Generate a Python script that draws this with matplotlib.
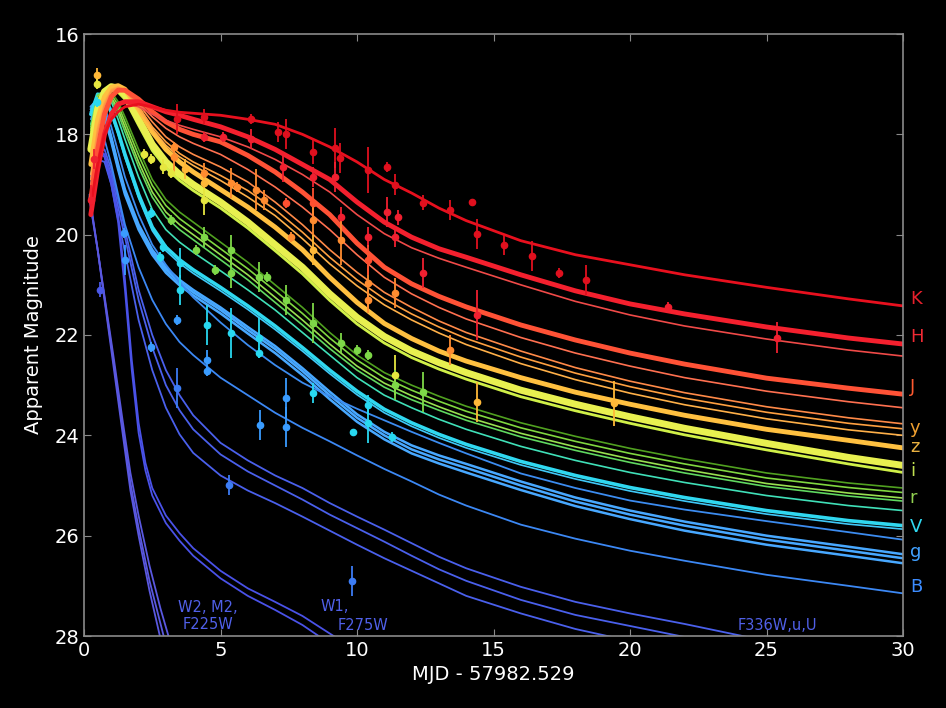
import matplotlib
matplotlib.use("Agg")
import matplotlib.pyplot as plt

# ---------------- data ----------------
T = [0.25, 0.5, 0.75, 1.0, 1.25, 1.5, 2.0, 2.5, 3.0, 3.5, 4.0, 5.0, 6.0, 7.0,
     8.0, 9.0, 10.0, 11.0, 12.0, 13.0, 14.0, 16.0, 18.0, 20.0, 22.0, 25.0, 28.0, 30.0]

K = [19.4, 18.6, 18.0, 17.7, 17.55, 17.45, 17.4, 17.45, 17.52, 17.56, 17.58, 17.62, 17.7, 17.8,
     18.0, 18.25, 18.55, 18.9, 19.17, 19.47, 19.72, 20.12, 20.4, 20.6, 20.8, 21.05, 21.28, 21.42]
H_thick = [19.6, 18.7, 18.0, 17.6, 17.4, 17.35, 17.35, 17.45, 17.55, 17.62, 17.7, 17.85, 18.05, 18.3,
           18.6, 18.9, 19.35, 19.75, 20.05, 20.28, 20.45, 20.8, 21.12, 21.38, 21.58, 21.84, 22.06, 22.18]
H_thin = [19.5, 18.6, 17.9, 17.55, 17.4, 17.38, 17.45, 17.6, 17.72, 17.82, 17.9, 18.05, 18.25, 18.5,
          18.8, 19.15, 19.6, 19.98, 20.26, 20.47, 20.65, 21.0, 21.33, 21.6, 21.82, 22.08, 22.3, 22.42]
J_thick = [19.3, 18.3, 17.6, 17.25, 17.12, 17.12, 17.3, 17.55, 17.75, 17.9, 18.0, 18.15, 18.42, 18.75,
           19.15, 19.6, 20.17, 20.65, 20.98, 21.23, 21.44, 21.8, 22.1, 22.36, 22.58, 22.86, 23.06, 23.18]
J_thin = [19.2, 18.2, 17.55, 17.22, 17.12, 17.15, 17.38, 17.65, 17.88, 18.05, 18.18, 18.4, 18.7, 19.05,
          19.45, 19.9, 20.4, 20.85, 21.18, 21.45, 21.68, 22.05, 22.36, 22.62, 22.85, 23.12, 23.33, 23.45]
y1 = [19.0, 18.0, 17.45, 17.15, 17.08, 17.12, 17.4, 17.75, 18.05, 18.25, 18.4, 18.65, 18.95, 19.35,
      19.8, 20.3, 20.75, 21.15, 21.45, 21.72, 21.95, 22.32, 22.65, 22.92, 23.15, 23.43, 23.65, 23.77]
y2 = [18.9, 17.9, 17.4, 17.12, 17.06, 17.12, 17.45, 17.85, 18.15, 18.38, 18.55, 18.82, 19.12, 19.5,
      19.95, 20.45, 20.9, 21.28, 21.58, 21.84, 22.07, 22.44, 22.76, 23.03, 23.26, 23.54, 23.76, 23.87]
y3 = [18.8, 17.85, 17.35, 17.1, 17.05, 17.12, 17.5, 17.9, 18.22, 18.45, 18.62, 18.92, 19.25, 19.62,
      20.08, 20.58, 21.02, 21.4, 21.7, 21.96, 22.19, 22.57, 22.89, 23.16, 23.39, 23.67, 23.89, 24.0]
z = [18.6, 17.7, 17.25, 17.06, 17.03, 17.1, 17.5, 17.95, 18.3, 18.55, 18.75, 19.1, 19.45, 19.85,
     20.3, 20.85, 21.35, 21.77, 22.07, 22.32, 22.52, 22.85, 23.14, 23.38, 23.6, 23.88, 24.1, 24.25]
i_thick = [18.3, 17.5, 17.15, 17.05, 17.08, 17.2, 17.7, 18.2, 18.55, 18.8, 19.0, 19.35, 19.75, 20.2,
           20.65, 21.18, 21.65, 22.03, 22.32, 22.55, 22.75, 23.1, 23.38, 23.63, 23.86, 24.16, 24.44, 24.6]
i_thin = [18.35, 17.55, 17.2, 17.12, 17.16, 17.3, 17.82, 18.32, 18.67, 18.92, 19.12, 19.47, 19.87, 20.32,
          20.78, 21.31, 21.78, 22.16, 22.45, 22.68, 22.88, 23.23, 23.51, 23.76, 23.99, 24.29, 24.57, 24.74]
r1 = [18.0, 17.3, 17.1, 17.15, 17.35, 17.65, 18.3, 18.9, 19.3, 19.55, 19.75, 20.15, 20.55, 21.0,
      21.45, 21.95, 22.4, 22.75, 23.0, 23.22, 23.42, 23.75, 24.02, 24.26, 24.47, 24.75, 24.95, 25.05]
r2 = [17.95, 17.28, 17.12, 17.2, 17.42, 17.75, 18.42, 19.02, 19.42, 19.68, 19.88, 20.28, 20.68, 21.12,
      21.57, 22.06, 22.5, 22.85, 23.1, 23.32, 23.52, 23.85, 24.12, 24.36, 24.57, 24.85, 25.04, 25.14]
r3 = [17.9, 17.25, 17.14, 17.26, 17.5, 17.85, 18.55, 19.15, 19.55, 19.8, 20.0, 20.4, 20.8, 21.25,
      21.7, 22.18, 22.62, 22.96, 23.21, 23.43, 23.63, 23.96, 24.23, 24.47, 24.68, 24.96, 25.15, 25.25]
r4 = [17.85, 17.22, 17.15, 17.3, 17.58, 17.95, 18.65, 19.25, 19.65, 19.9, 20.1, 20.5, 20.9, 21.35,
      21.8, 22.27, 22.7, 23.04, 23.29, 23.5, 23.7, 24.03, 24.3, 24.54, 24.75, 25.02, 25.21, 25.31]
cg = [17.8, 17.2, 17.15, 17.35, 17.7, 18.1, 18.85, 19.5, 19.9, 20.15, 20.35, 20.72, 21.1, 21.5,
      21.95, 22.4, 22.85, 23.2, 23.45, 23.68, 23.88, 24.22, 24.5, 24.74, 24.94, 25.2, 25.4, 25.5]
V1 = [17.6, 17.2, 17.25, 17.55, 17.95, 18.4, 19.2, 19.85, 20.25, 20.5, 20.7, 21.05, 21.42, 21.82,
      22.25, 22.7, 23.12, 23.48, 23.75, 23.98, 24.18, 24.52, 24.8, 25.04, 25.24, 25.5, 25.7, 25.8]
V2 = [17.62, 17.22, 17.28, 17.6, 18.0, 18.46, 19.27, 19.92, 20.32, 20.57, 20.77, 21.12, 21.49, 21.89,
      22.32, 22.77, 23.19, 23.55, 23.82, 24.05, 24.25, 24.59, 24.87, 25.11, 25.31, 25.57, 25.77, 25.87]
blue1 = [17.7, 17.3, 17.45, 17.85, 18.35, 18.85, 19.6, 20.2, 20.6, 20.95, 21.25, 21.75, 22.2, 22.6,
         22.95, 23.22, 23.47, 23.7, 23.93, 24.15, 24.36, 24.76, 25.05, 25.3, 25.48, 25.71, 25.93, 26.08]
g1 = [17.45, 17.3, 17.55, 18.05, 18.6, 19.1, 19.8, 20.3, 20.65, 20.9, 21.1, 21.45, 21.84, 22.22,
      22.66, 23.13, 23.58, 23.93, 24.2, 24.4, 24.57, 24.92, 25.24, 25.5, 25.72, 26.0, 26.22, 26.37]
g2 = [17.5, 17.35, 17.6, 18.1, 18.65, 19.15, 19.85, 20.35, 20.7, 20.95, 21.15, 21.5, 21.9, 22.28,
      22.72, 23.2, 23.65, 24.0, 24.28, 24.48, 24.65, 25.0, 25.32, 25.58, 25.8, 26.08, 26.3, 26.45]
g3 = [17.55, 17.4, 17.65, 18.15, 18.7, 19.2, 19.9, 20.4, 20.76, 21.01, 21.21, 21.57, 21.97, 22.36,
      22.8, 23.28, 23.73, 24.08, 24.36, 24.56, 24.74, 25.09, 25.41, 25.67, 25.9, 26.18, 26.4, 26.55]
B1 = [18.4, 17.95, 18.1, 18.6, 19.2, 19.8, 20.65, 21.3, 21.78, 22.14, 22.4, 22.85, 23.2, 23.55,
      23.85, 24.12, 24.4, 24.67, 24.92, 25.18, 25.4, 25.78, 26.06, 26.3, 26.5, 26.78, 27.0, 27.15]
U1 = [18.9, 18.35, 18.3, 18.7, 19.3, 19.9, 21.1, 22.0, 22.7, 23.2, 23.6, 24.15, 24.5, 24.8,
      25.05, 25.35, 25.62, 25.88, 26.15, 26.42, 26.65, 27.02, 27.32, 27.55, 27.76, 28.1, 28.4, 28.6]
U2 = [19.0, 18.4, 18.4, 18.8, 19.45, 20.05, 21.3, 22.25, 23.0, 23.5, 23.88, 24.38, 24.72, 25.0,
      25.28, 25.58, 25.85, 26.12, 26.4, 26.67, 26.9, 27.28, 27.58, 27.8, 28.02, 28.3, 28.6, 28.8]
U3 = [19.1, 18.5, 18.55, 19.0, 19.7, 20.35, 21.7, 22.7, 23.45, 23.98, 24.35, 24.8, 25.1, 25.35,
      25.62, 25.9, 26.18, 26.45, 26.7, 26.95, 27.2, 27.55, 27.86, 28.1, 28.35, 28.7, 29.0, 29.2]

TW1 = [0.25, 0.5, 0.75, 1.0, 1.25, 1.5, 1.75, 2.0, 2.25, 2.5, 3.0, 3.5, 4.0, 5.0, 6.0, 7.0, 8.0, 9.0, 10.0]
W1a = [18.8, 18.3, 18.4, 18.9, 19.6, 20.9, 22.5, 23.75, 24.55, 25.05, 25.6, 25.95, 26.25, 26.7, 27.05, 27.32, 27.6, 27.95, 28.3]
W1b = [18.85, 18.35, 18.45, 19.0, 19.75, 21.1, 22.7, 23.95, 24.7, 25.2, 25.75, 26.1, 26.4, 26.85, 27.2, 27.48, 27.78, 28.15, 28.5]

TW2 = [0.2, 0.5, 0.8, 1.1, 1.4, 1.7, 2.0, 2.4, 2.8, 3.2, 3.6]
W2a = [19.2, 20.3, 21.5, 22.7, 23.9, 25.1, 26.0, 27.1, 28.05, 29.0, 29.9]
W2b = [19.25, 20.3, 21.45, 22.6, 23.8, 24.95, 25.85, 26.9, 27.75, 28.6, 29.4]
W2c = [19.3, 20.3, 21.4, 22.5, 23.65, 24.75, 25.6, 26.6, 27.45, 28.2, 29.0]

# observed points: time, magnitude, error, band index
obs_t = [9.38, 10.4, 11.1, 11.4, 12.4, 13.4, 14.2, 14.4, 15.4, 16.4, 17.4, 18.4, 21.4, 25.4,
         9.4, 11.1, 11.5, 10.4, 11.4, 12.4, 14.4, 4.4, 3.4, 6.1, 7.1, 7.4, 8.4, 9.2,
         4.4, 5.1, 6.1, 7.3, 8.4, 9.2, 0.26, 0.37,
         10.4, 10.4, 11.4, 13.4, 14.4, 19.4, 11.4, 3.3, 3.3, 4.4, 5.4, 5.6, 6.3, 6.6,
         7.4, 8.4, 8.4, 7.6, 8.4, 9.4, 10.4,
         2.2, 2.45, 2.9, 3.2, 3.7, 4.4, 4.4, 0.47, 0.47,
         3.2, 4.1, 4.4, 4.8, 5.4, 5.4, 6.4, 6.7, 7.4, 8.4, 9.4, 10.0, 12.4, 10.4, 11.4,
         2.45, 2.9, 2.8, 3.5, 3.5, 4.5, 5.4, 6.4, 6.4, 8.4, 9.86, 10.4, 11.3, 0.47, 10.4,
         3.4, 4.5, 4.5, 7.4, 6.45, 7.4, 1.47, 1.5, 2.45,
         3.4, 5.3, 9.8, 0.6]
obs_m = [18.47, 18.71, 18.65, 19.0, 19.36, 19.5, 19.35, 19.99, 20.2, 20.42, 20.76, 20.9, 21.45, 22.05,
         19.65, 19.55, 19.65, 20.05, 20.05, 20.76, 21.6, 17.65, 17.7, 17.7, 17.95, 18.0, 18.35, 18.27,
         18.05, 18.05, 18.1, 18.65, 18.85, 18.85, 19.3, 18.5,
         20.97, 21.3, 21.17, 22.3, 23.33, 23.36, 22.8, 18.25, 18.45, 18.77, 18.97, 19.05, 19.1, 19.3,
         19.37, 19.37, 19.7, 20.05, 20.3, 20.1, 20.5,
         18.4, 18.5, 18.65, 18.78, 18.7, 19.3, 18.97, 16.82, 17.0,
         19.7, 20.3, 20.05, 20.7, 20.3, 20.77, 20.84, 20.84, 21.3, 21.76, 22.16, 22.3, 23.13, 22.4, 23.0,
         19.57, 20.24, 20.44, 20.57, 21.1, 21.8, 21.96, 22.06, 22.36, 23.16, 23.93, 23.76, 24.03, 17.35, 23.4,
         21.7, 22.5, 22.72, 23.26, 23.8, 23.83, 19.97, 20.5, 22.24,
         23.06, 24.99, 26.9, 21.1]
obs_e = [0.3, 0.45, 0.1, 0.2, 0.15, 0.2, 0.05, 0.3, 0.2, 0.3, 0.1, 0.3, 0.1, 0.3,
         0.2, 0.3, 0.15, 0.2, 0.2, 0.3, 0.5, 0.15, 0.3, 0.1, 0.2, 0.3, 0.25, 0.4,
         0.1, 0.1, 0.2, 0.3, 0.2, 0.3, 0.3, 0.2,
         0.6, 0.2, 0.3, 0.3, 0.4, 0.45, 0.4, 0.1, 0.3, 0.2, 0.3, 0.1, 0.4, 0.2,
         0.1, 0.3, 0.3, 0.1, 0.3, 0.5, 0.3,
         0.1, 0.1, 0.15, 0.1, 0.2, 0.3, 0.1, 0.15, 0.1,
         0.1, 0.1, 0.2, 0.1, 0.3, 0.3, 0.3, 0.1, 0.3, 0.4, 0.2, 0.1, 0.4, 0.1, 0.3,
         0.1, 0.1, 0.1, 0.3, 0.3, 0.4, 0.5, 0.4, 0.1, 0.2, 0.05, 0.4, 0.1, 0.1, 0.2,
         0.1, 0.2, 0.1, 0.4, 0.3, 0.4, 0.1, 0.3, 0.1,
         0.4, 0.2, 0.3, 0.15]
obs_b = [0, 0, 0, 0, 0, 0, 0, 0, 0, 0, 0, 0, 1, 1,
         1, 1, 1, 1, 1, 1, 1, 0, 0, 0, 0, 0, 0, 0,
         1, 1, 1, 1, 1, 1, 1, 1,
         3, 3, 3, 3, 4, 4, 5, 3, 3, 3, 3, 3, 3, 3,
         2, 2, 3, 3, 4, 3, 2,
         5, 5, 5, 5, 4, 5, 4, 4, 5,
         6, 6, 6, 6, 6, 6, 6, 6, 6, 6, 6, 6, 6, 6, 6,
         7, 7, 7, 7, 7, 7, 7, 7, 7, 7, 7, 7, 7, 7, 7,
         8, 8, 8, 8, 8, 8, 8, 8, 8,
         9, 9, 9, 10]

band_colors = ['#e0101e', '#f02030', '#ff5030', '#ff8c30', '#ffb838', '#e6e640',
               '#7ed848', '#28d8f0', '#3a9cff', '#3c7cf4', '#4a58e8']

label_names = ['K', 'H', 'J', 'y', 'z', 'i', 'r', 'V', 'g', 'B']
label_mags = [21.28, 22.04, 23.04, 23.85, 24.23, 24.71, 25.25, 25.83, 26.33, 27.03]
label_colors = ['#e8202c', '#f02a34', '#ff5a30', '#f0a030', '#e8b040', '#c0e050',
                '#90d050', '#30d8f0', '#40a0ff', '#3c8cff']

# ---------------- plot ----------------
fig = plt.figure(figsize=(9.46, 7.08), dpi=100, facecolor='black')
ax = fig.add_axes([84 / 946, 1 - 636 / 708, (903 - 84) / 946, (636 - 34) / 708])
ax.set_facecolor('black')

curves = [
    (T, U3, '#4a60ec', 1.3), (T, U2, '#4a60ec', 1.3), (T, U1, '#4a60ec', 1.3),
    (TW1, W1a, '#4a52e8', 1.3), (TW1, W1b, '#4a52e8', 1.3),
    (TW2, W2a, '#5a58e0', 1.3), (TW2, W2b, '#5a58e0', 1.3), (TW2, W2c, '#5a58e0', 1.3),
    (T, B1, '#3c88f4', 1.3),
    (T, g1, '#48a8ff', 1.8), (T, g2, '#48a8ff', 1.8), (T, g3, '#48a8ff', 1.8),
    (T, blue1, '#3c8cf0', 1.3),
    (T, V2, '#40c8f8', 1.2), (T, V1, '#30d8f0', 2.6),
    (T, cg, '#40e0b8', 1.2),
    (T, r4, '#60d860', 1.2), (T, r3, '#98e050', 1.2), (T, r2, '#80d840', 1.2), (T, r1, '#50a020', 1.2),
    (T, i_thin, '#d0f048', 2.0), (T, i_thick, '#e8f050', 5.0),
    (T, z, '#ffc040', 3.5),
    (T, y3, '#ffb048', 1.2), (T, y2, '#ffa040', 1.2), (T, y1, '#ff8a48', 1.2),
    (T, J_thin, '#ff7050', 1.2), (T, J_thick, '#ff5236', 3.5),
    (T, H_thin, '#f04a48', 1.2), (T, H_thick, '#f4202e', 3.5),
    (T, K, '#e8101e', 2.0),
]
for tx, my, col, lw in curves:
    ax.plot(tx, my, color=col, lw=lw, solid_capstyle='round', solid_joinstyle='round', zorder=2)

for t, m, e, b in zip(obs_t, obs_m, obs_e, obs_b):
    ax.errorbar(t, m, yerr=e, fmt='o', ms=4.5, color=band_colors[b], mec=band_colors[b],
                elinewidth=1.3, capsize=0, zorder=3)

ax.set_xlim(0, 30)
ax.set_ylim(28, 16)
ax.set_xticks([0, 5, 10, 15, 20, 25, 30])
ax.set_yticks([16, 18, 20, 22, 24, 26, 28])
for sp in ax.spines.values():
    sp.set_color('#8a8a8a')
    sp.set_linewidth(1.2)
ax.tick_params(direction='in', colors='#8a8a8a', labelcolor='white', labelsize=14,
               length=5, top=True, right=True)
ax.set_xlabel('MJD - 57982.529', color='white', fontsize=14, labelpad=4)
ax.set_ylabel('Apparent Magnitude', color='white', fontsize=14, labelpad=8)

for name, m, c in zip(label_names, label_mags, label_colors):
    ax.text(30.25, m, name, color=c, fontsize=13, ha='left', va='center', clip_on=False)

uv_col = '#5060e8'
ax.text(4.55, 27.6, 'W2, M2,\nF225W', color=uv_col, fontsize=10.5, ha='center', va='center',
        multialignment='center', linespacing=1.2)
ax.text(8.65, 27.42, 'W1,', color=uv_col, fontsize=10.5, ha='left', va='center')
ax.text(9.3, 27.8, 'F275W', color=uv_col, fontsize=10.5, ha='left', va='center')
ax.text(23.96, 27.8, 'F336W,u,U', color=uv_col, fontsize=10.5, ha='left', va='center')

fig.savefig('out.png', dpi=100, facecolor='black')
